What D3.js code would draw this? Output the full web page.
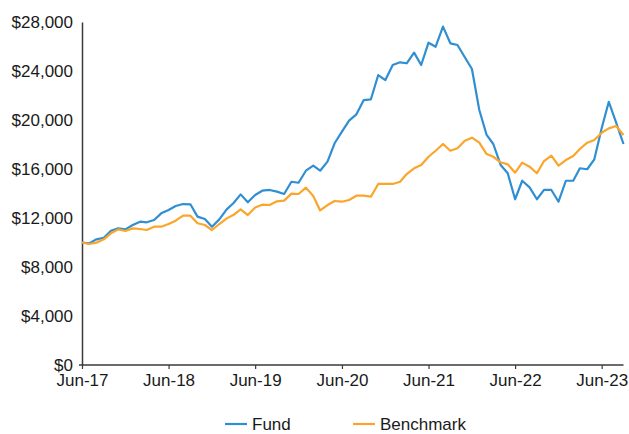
<!DOCTYPE html>
<html>
<head>
<meta charset="utf-8">
<script src="https://cdn.jsdelivr.net/npm/d3@7"></script>
<style>
	body { margin: 0; background: #fff; }
	text { font-family: 'Liberation Sans', Arial, sans-serif; fill: #1a1a1a; }
</style>
</head>
<body>
<svg id="chart" width="629" height="434"></svg>
<script>
// monthly growth of $10,000, Jun-17 .. Sep-23
const fund = [
	10000, 9930, 10260, 10390, 10960, 11150, 11070, 11430, 11700, 11650, 11840, 12380,
	12650, 12980, 13140, 13120, 12110, 11920, 11290, 11890, 12700, 13200, 13930, 13280,
	13880, 14230, 14290, 14150, 13960, 14960, 14880, 15860, 16270, 15860, 16600, 18100,
	19050, 19950, 20460, 21630, 21690, 23670, 23260, 24490, 24710, 24630, 25500, 24490,
	26310, 25980, 27620, 26260, 26120, 25120, 24160, 20820, 18780, 18040, 16330, 15650,
	13530, 15040, 14500, 13530, 14290, 14290, 13330, 15040, 15040, 16060, 15980, 16790,
	19320, 21490, 19780, 18040
];
const benchmark = [
	10000, 9880, 9990, 10260, 10750, 11070, 10940, 11150, 11100, 11020, 11290, 11290,
	11510, 11780, 12190, 12190, 11570, 11430, 11020, 11510, 11970, 12240, 12710, 12240,
	12850, 13090, 13060, 13360, 13420, 13990, 13960, 14480, 13800, 12620, 13060, 13390,
	13330, 13470, 13820, 13820, 13740, 14780, 14780, 14780, 14960, 15590, 16060, 16330,
	17000, 17490, 18040, 17490, 17690, 18310, 18560, 18150, 17220, 17000, 16550, 16380,
	15700, 16520, 16190, 15650, 16650, 17090, 16270, 16730, 17060, 17630, 18150, 18370,
	18960, 19320, 19510, 18780
];
const xTickLabels = ['Jun-17', 'Jun-18', 'Jun-19', 'Jun-20', 'Jun-21', 'Jun-22', 'Jun-23'];
const yTicks = [0, 4000, 8000, 12000, 16000, 20000, 24000, 28000];

const series = [
	{ name: 'Fund', values: fund, color: '#2f8fd2' },
	{ name: 'Benchmark', values: benchmark, color: '#fba52a' }
];

const svg = d3.select('#chart');
const margin = { left: 82, right: 5, top: 22, bottom: 69 };
const width = 629, height = 434;
const fontSize = 17;

const start = new Date(2017, 5, 1);
const dateAt = i => d3.timeMonth.offset(start, i);
const parseTick = d3.timeParse('%b-%y');

const x = d3.scaleTime()
	.domain([start, dateAt(fund.length - 1)])
	.range([margin.left, width - margin.right - 0.5]);

const y = d3.scaleLinear()
	.domain([0, 28000])
	.range([height - margin.bottom, margin.top]);

const axisColor = '#3a3a3a';

// y axis
const yAxis = svg.append('g')
	.attr('transform', `translate(${margin.left},0)`)
	.call(d3.axisLeft(y).tickValues(yTicks).tickSize(0).tickPadding(9)
		.tickFormat(d => '$' + d3.format(',')(d)));
yAxis.select('.domain').attr('stroke', axisColor).attr('stroke-width', 1.5);
yAxis.selectAll('.tick text').attr('font-size', fontSize).attr('fill', '#1a1a1a')
	.attr('font-family', "'Liberation Sans', Arial, sans-serif");

// x axis
const xAxis = svg.append('g')
	.attr('transform', `translate(0,${y(0)})`)
	.call(d3.axisBottom(x).tickValues(xTickLabels.map(parseTick)).tickSize(4).tickSizeOuter(0).tickPadding(5)
		.tickFormat(d3.timeFormat('%b-%y')));
xAxis.select('.domain').attr('stroke', axisColor).attr('stroke-width', 1.5)
	.attr('d', `M${margin.left - 3},0H${x.range()[1]}`);
xAxis.selectAll('.tick line').attr('stroke', axisColor).attr('stroke-width', 1.2);
xAxis.selectAll('.tick text').attr('font-size', fontSize).attr('fill', '#1a1a1a')
	.attr('font-family', "'Liberation Sans', Arial, sans-serif");

// lines
const line = d3.line()
	.x((d, i) => x(dateAt(i)))
	.y(d => y(d));

svg.append('g').attr('class', 'lines')
	.selectAll('path')
	.data(series)
	.enter()
	.append('path')
	.attr('fill', 'none')
	.attr('stroke', d => d.color)
	.attr('stroke-width', 2.2)
	.attr('stroke-linejoin', 'round')
	.attr('d', d => line(d.values));

// legend
const legend = svg.append('g').attr('transform', 'translate(0,424)');
const legendX = [225, 353];
series.forEach((s, i) => {
	const g = legend.append('g').attr('transform', `translate(${legendX[i]},0)`);
	g.append('line').attr('x1', 0).attr('x2', 22).attr('stroke', s.color).attr('stroke-width', 2.2);
	g.append('text').attr('x', 27).attr('dy', '0.35em').attr('font-size', fontSize).text(s.name);
});
</script>
</body>
</html>
